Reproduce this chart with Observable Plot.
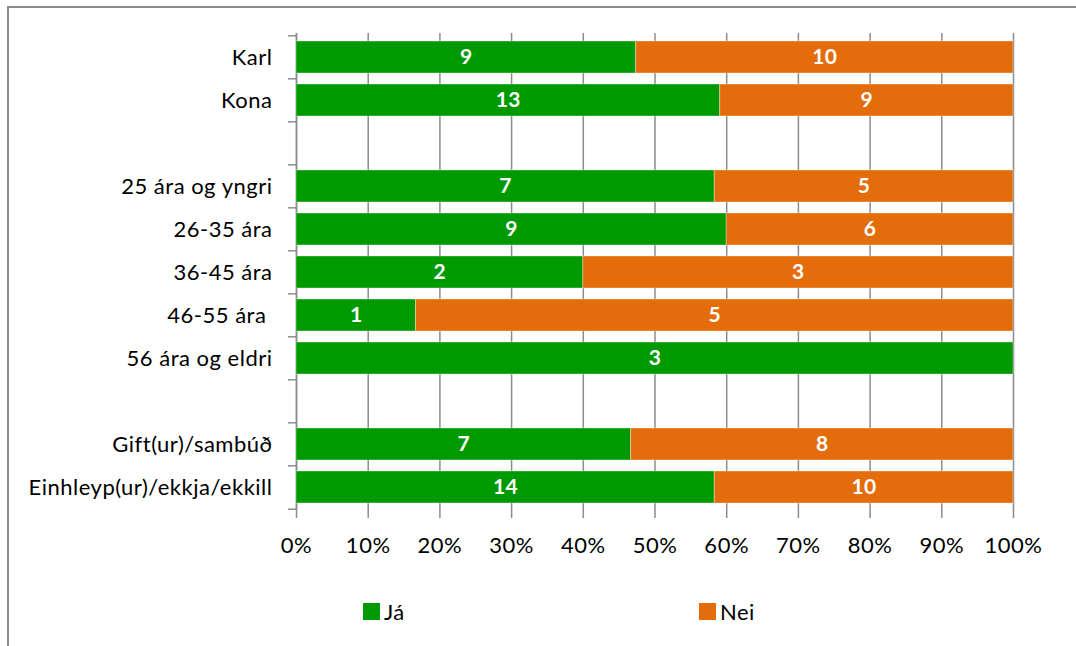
<!DOCTYPE html>
<html>
<head>
<meta charset="utf-8">
<script src="https://cdn.jsdelivr.net/npm/d3@7"></script>
<script src="https://cdn.jsdelivr.net/npm/@observablehq/plot@0.6"></script>
<style>
  html, body { margin: 0; padding: 0; background: #fff; }
  body { width: 1076px; height: 646px; position: relative; overflow: hidden; font-family: Lato, "Open Sans", sans-serif; }
  #frame { position: absolute; left: 7px; top: 6px; width: 1080px; height: 660px; border-top: 2px solid #8c8c8c; border-left: 2px solid #8c8c8c; }
  #chart { position: absolute; left: 0; top: 0; }
  .legend { position: absolute; top: 598px; font-size: 22px; letter-spacing: 0.5px; color: #000; display: flex; align-items: center; }
  .legend .sw { width: 17px; height: 17px; margin-right: 4px; }
</style>
</head>
<body>
<div id="frame"></div>
<div id="chart"></div>
<div class="legend" style="left:363px"><div class="sw" style="background:#009900"></div>Já</div>
<div class="legend" style="left:699px"><div class="sw" style="background:#E46C0A"></div>Nei</div>
<script>
const categories = ["Karl", "Kona", " ", "25 ára og yngri", "26-35 ára", "36-45 ára", "46-55 ára", "56 ára og eldri", "  ", "Gift(ur)/sambúð", "Einhleyp(ur)/ekkja/ekkill"];
const groups = ["Karl", "Kona", "25 ára og yngri", "26-35 ára", "36-45 ára", "46-55 ára", "56 ára og eldri", "Gift(ur)/sambúð", "Einhleyp(ur)/ekkja/ekkill"];
const jaValues = [9, 13, 7, 9, 2, 1, 3, 7, 14];
const neiValues = [10, 9, 5, 6, 3, 5, 0, 8, 10];
const seriesNames = ["Já", "Nei"];
const seriesColors = ["#009900", "#E46C0A"];
const xTicks = [0, 0.1, 0.2, 0.3, 0.4, 0.5, 0.6, 0.7, 0.8, 0.9, 1];

const rows = [];
groups.forEach((g, i) => {
  rows.push({cat: g, series: "Já", n: jaValues[i]});
  rows.push({cat: g, series: "Nei", n: neiValues[i]});
});

const mT = 33, mB = 70, H = 580;
const step = (H - mT - mB) / categories.length;

const chart = Plot.plot({
  width: 1076,
  height: H,
  marginLeft: 296,
  marginRight: 63,
  marginTop: mT,
  marginBottom: mB,
  style: {fontFamily: "Lato, 'Open Sans', sans-serif", fontSize: "22px", color: "#000", background: "transparent", letterSpacing: "0.5px"},
  x: {domain: [0, 1], ticks: xTicks},
  y: {domain: categories, paddingInner: 0.26, paddingOuter: 0.13, align: 0.5},
  color: {domain: seriesNames, range: seriesColors},
  marks: [
    Plot.gridX(xTicks, {stroke: "#8c8c8c", strokeOpacity: 1, strokeWidth: 1.5}),
    Plot.axisX(xTicks, {tickSize: 8, stroke: "#8c8c8c", strokeWidth: 1.5, tickPadding: 19, tickFormat: d => Math.round(d * 100) + "%", fontSize: 22, label: null}),
    Plot.axisY({tickSize: 0, tickPadding: 24, fontSize: 22, label: null, tickFormat: d => d.trim() === "" ? "" : (d === "46-55 ára" ? d + "\u00a0" : d)}),
    Plot.axisY({tickSize: 8, stroke: "#8c8c8c", strokeWidth: 1.5, text: null, dy: -step / 2, label: null}),
    Plot.axisY([categories[categories.length - 1]], {tickSize: 8, stroke: "#8c8c8c", strokeWidth: 1.5, text: null, dy: step / 2, label: null}),
    Plot.ruleX([0], {stroke: "#8c8c8c", strokeWidth: 1.5}),
    Plot.barX(rows, Plot.stackX({offset: "normalize", x: "n", y: "cat", fill: "series", order: seriesNames, stroke: "#ffffff", strokeOpacity: 0.35, strokeWidth: 1})),
    Plot.text(rows.filter(d => d.n > 0), Plot.stackX({offset: "normalize", x: "n", y: "cat", order: seriesNames, z: "series", text: d => String(d.n), fill: "#ffffff", fontWeight: "bold", fontSize: 21}))
  ]
});
document.getElementById("chart").appendChild(chart);
</script>
</body>
</html>
